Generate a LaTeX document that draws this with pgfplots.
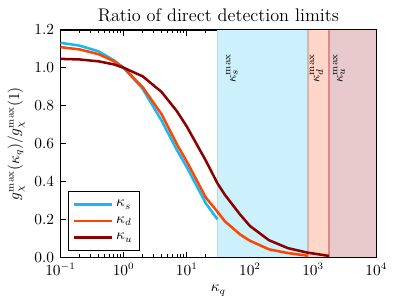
\documentclass[border=0pt]{standalone}
\usepackage{pgfplots}
\pgfplotsset{compat=1.18}
\definecolor{cs}{RGB}{20,185,245}
\definecolor{cd}{RGB}{255,69,0}
\definecolor{cu}{RGB}{139,0,0}
\definecolor{fs}{RGB}{204,240,252}
\definecolor{fd}{RGB}{255,214,200}
\definecolor{fu}{RGB}{232,202,204}
\definecolor{ls}{RGB}{165,225,245}
\definecolor{ld}{RGB}{225,178,168}
\definecolor{lu}{RGB}{225,135,135}
\begin{document}
\begin{tikzpicture}
\path[use as bounding box] (-43.1pt,-33.4pt) rectangle (246.9pt,183.3pt);
\begin{axis}[
  scale only axis, width=225pt, height=162pt,
  xmode=log, xmin=0.1, xmax=10000, ymin=0, ymax=1.2,
  xtick={0.1,1,10,100,1000,10000},
  ytick={0,0.2,0.4,0.6,0.8,1.0,1.2},
  yticklabel style={/pgf/number format/fixed,/pgf/number format/fixed zerofill,/pgf/number format/precision=1, xshift=-1pt},
  xticklabel style={yshift=-1pt},
  tick align=inside, tick pos=both,
  major tick length=4pt, minor tick length=2pt,
  every tick/.style={black, line width=0.6pt},
  axis line style={line width=0.9pt},
  tick label style={font=\fontsize{10.5}{12}\selectfont},
  title={Ratio of direct detection limits},
  title style={font=\fontsize{13}{15}\selectfont, yshift=-4pt},
  xlabel={$\kappa_q$}, ylabel={$g_\chi^{\max}(\kappa_q)/g_\chi^{\max}(1)$},
  label style={font=\fontsize{10.5}{12}\selectfont},
  legend style={at={(0.024,0.028)}, anchor=south west, draw=black, line width=0.9pt, font=\fontsize{10.5}{12}\selectfont, row sep=1.5pt, inner xsep=3pt, inner ysep=4pt},
  legend cell align=left,
  legend image code/.code={\draw[#1, line width=1.8pt] (0.1cm,0cm) -- (0.65cm,0cm); \path (0cm,0cm) -- (0.95cm,0cm);},
  clip=true,
]
\addplot[fill=fs, draw=none, forget plot] coordinates {(30.6,1.2) (825,1.2)} \closedcycle;
\addplot[fill=fd, draw=none, forget plot] coordinates {(825,1.2) (1790,1.2)} \closedcycle;
\addplot[fill=fu, draw=none, forget plot] coordinates {(1790,1.2) (10000,1.2)} \closedcycle;
\addplot[ls, line width=1pt, forget plot] coordinates {(30.6,0) (30.6,1.2)};
\addplot[ld, line width=1pt, forget plot] coordinates {(825,0) (825,1.2)};
\addplot[lu, line width=1pt, forget plot] coordinates {(1790,0) (1790,1.2)};
\addplot[cs, line width=1.8pt] table {
0.1 1.132
0.2 1.117
0.4 1.087
0.7 1.04
1 1.0
2 0.889
4 0.72
7 0.565
10 0.475
20 0.285
30.6 0.20
};
\addlegendentry{$\kappa_s$}
\addplot[cd, line width=1.8pt] table {
0.1 1.109
0.2 1.097
0.4 1.072
0.7 1.035
1 1.0
2 0.898
4 0.754
7 0.595
10 0.505
20 0.315
30.6 0.24
40 0.19
70 0.12
100 0.087
200 0.042
400 0.022
825 0.008
};
\addlegendentry{$\kappa_d$}
\addplot[cu, line width=1.8pt] table {
0.1 1.047
0.2 1.044
0.4 1.034
0.7 1.018
1 1.0
2 0.955
4 0.872
7 0.77
10 0.69
20 0.51
30.6 0.39
40 0.33
70 0.225
100 0.165
200 0.09
400 0.048
825 0.024
1790 0.007
};
\addlegendentry{$\kappa_u$}
\node[rotate=90, anchor=north west, inner sep=0pt, font=\fontsize{9.5}{11}\selectfont] at (axis cs:41.5,0.92) {$\kappa_s^{\max}$};
\node[rotate=90, anchor=north west, inner sep=0pt, font=\fontsize{9.5}{11}\selectfont] at (axis cs:880,0.92) {$\kappa_d^{\max}$};
\node[rotate=90, anchor=north west, inner sep=0pt, font=\fontsize{9.5}{11}\selectfont] at (axis cs:2050,0.92) {$\kappa_u^{\max}$};
\end{axis}
\end{tikzpicture}
\end{document}
